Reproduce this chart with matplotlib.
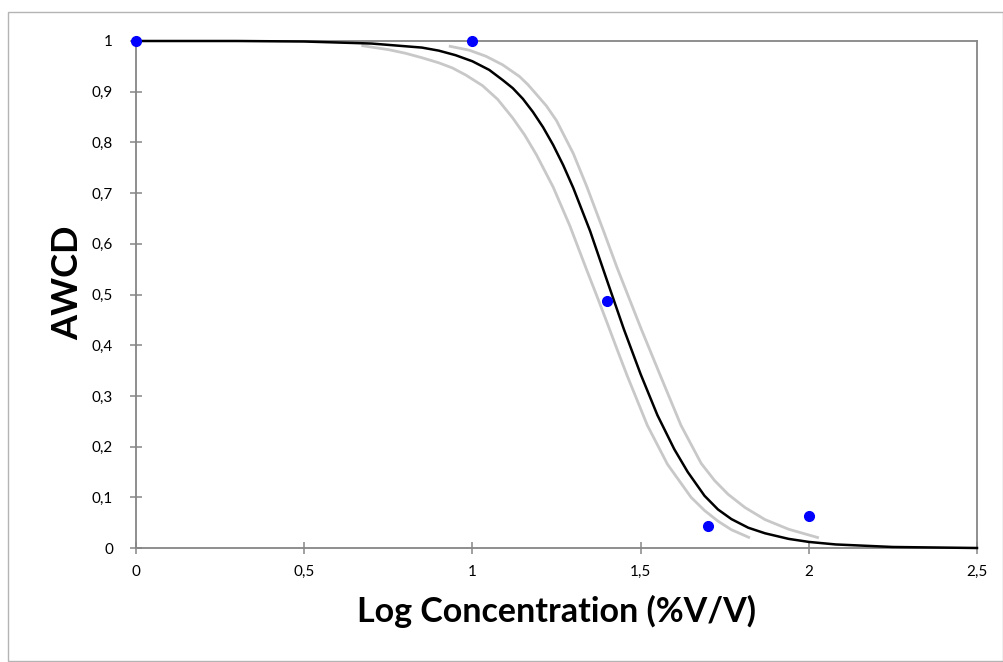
import matplotlib
matplotlib.use("Agg")
import matplotlib.pyplot as plt
from matplotlib.patches import Rectangle

# observed points
obs_x = [0, 1, 1.4, 1.7, 2.0]
obs_y = [1.0, 1.0, 0.487, 0.044, 0.063]

# fitted curve
fit_x = [0, 0.3, 0.5, 0.7, 0.85, 0.9, 0.95, 1.0, 1.05, 1.09, 1.12, 1.15, 1.18, 1.21,
         1.24, 1.27, 1.30, 1.35, 1.40, 1.45, 1.50, 1.55, 1.60, 1.64, 1.69, 1.73,
         1.77, 1.82, 1.87, 1.94, 2.0, 2.08, 2.25, 2.5]
fit_y = [1.0, 1.0, 0.999, 0.995, 0.987, 0.981, 0.972, 0.960, 0.943, 0.923, 0.907,
         0.886, 0.860, 0.830, 0.795, 0.755, 0.710, 0.625, 0.528, 0.432, 0.343, 0.262,
         0.195, 0.150, 0.103, 0.076, 0.057, 0.040, 0.029, 0.018, 0.012, 0.007,
         0.002, 0.0]

# confidence bands
low_x = [0.67, 0.75, 0.80, 0.85, 0.90, 0.94, 0.98, 1.03, 1.075, 1.12, 1.155, 1.19,
         1.24, 1.29, 1.34, 1.37, 1.40, 1.43, 1.46, 1.52, 1.58, 1.65, 1.69, 1.73,
         1.77, 1.825]
low_y = [0.991, 0.983, 0.976, 0.967, 0.957, 0.947, 0.933, 0.912, 0.885, 0.848,
         0.815, 0.776, 0.712, 0.635, 0.548, 0.497, 0.445, 0.392, 0.340, 0.242,
         0.165, 0.100, 0.074, 0.053, 0.036, 0.020]

up_x = [0.93, 0.99, 1.04, 1.09, 1.14, 1.165, 1.19, 1.22, 1.25, 1.30, 1.34, 1.39,
        1.43, 1.50, 1.56, 1.62, 1.68, 1.72, 1.76, 1.81, 1.87, 1.94, 2.03]
up_y = [0.990, 0.982, 0.970, 0.953, 0.930, 0.914, 0.895, 0.872, 0.843, 0.778,
        0.713, 0.625, 0.553, 0.435, 0.338, 0.242, 0.167, 0.133, 0.106, 0.080,
        0.056, 0.037, 0.020]

x_ticks = [0, 0.5, 1, 1.5, 2, 2.5]
x_labels = ["0", "0,5", "1", "1,5", "2", "2,5"]
y_ticks = [0, 0.1, 0.2, 0.3, 0.4, 0.5, 0.6, 0.7, 0.8, 0.9, 1]
y_labels = ["0", "0,1", "0,2", "0,3", "0,4", "0,5", "0,6", "0,7", "0,8", "0,9", "1"]

plt.rcParams['font.family'] = ['Lato', 'DejaVu Sans']

fig = plt.figure(figsize=(10.04, 6.62), dpi=100)
ax = fig.add_axes([136 / 1004, 1 - 548 / 662, 841 / 1004, 507 / 662])

# outer chart border
fig.patches.append(Rectangle((8 / 1004, 1 / 662), 995 / 1004, 649 / 662,
                             transform=fig.transFigure, fill=False,
                             edgecolor="#b4b4b4", linewidth=1))

ax.plot(low_x, low_y, color="#c8c8c8", lw=2.0, solid_capstyle="butt")
ax.plot(up_x, up_y, color="#c8c8c8", lw=2.0, solid_capstyle="butt")
ax.plot(fit_x, fit_y, color="black", lw=1.8, clip_on=False, zorder=3)
ax.plot(obs_x, obs_y, "o", color="#0000ff", markersize=7, clip_on=False, zorder=4)

ax.set_xlim(0, 2.5)
ax.set_ylim(0, 1)
ax.set_xticks(x_ticks)
ax.set_xticklabels(x_labels)
ax.set_yticks(y_ticks)
ax.set_yticklabels(y_labels)

for s in ax.spines.values():
    s.set_color("#868686")
    s.set_linewidth(1.3)

ax.tick_params(axis="both", direction="inout", length=9, width=1.1,
               color="#868686", labelsize=11)
ax.tick_params(axis="x", pad=8)
ax.tick_params(axis="y", pad=12)

ax.set_xlabel("Log Concentration (%V/V)", fontsize=24.5, fontweight="bold", va="center")
ax.xaxis.set_label_coords(0.5, -0.126)
ax.set_ylabel("AWCD", fontsize=26, fontweight="bold", va="center")
ax.yaxis.set_label_coords(-0.081, 0.523)

fig.savefig("out.png", dpi=100)
